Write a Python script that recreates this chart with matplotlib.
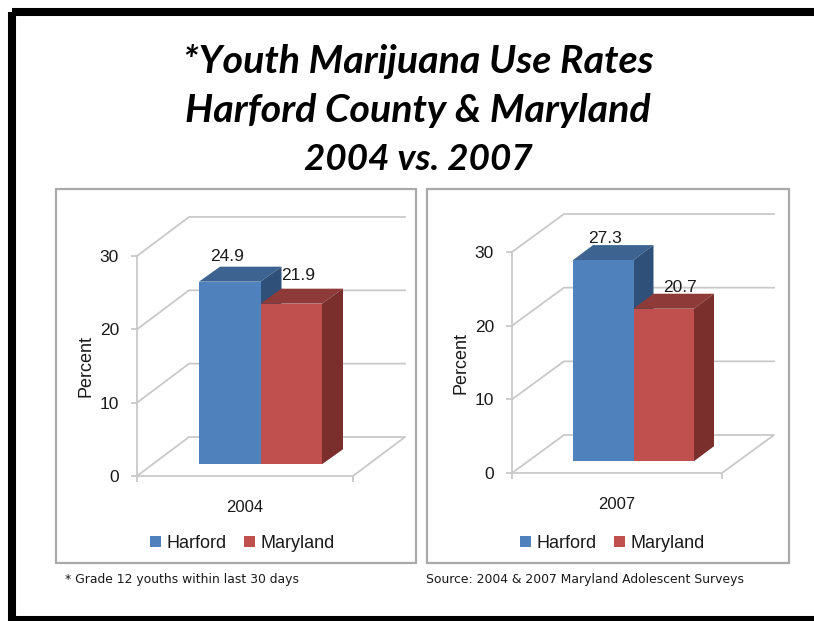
import matplotlib
matplotlib.use('Agg')
import matplotlib.pyplot as plt
from matplotlib.patches import Rectangle, Polygon
from matplotlib.transforms import Affine2D

years = ['2004', '2007']
series = ['Harford', 'Maryland']
harford = [24.9, 27.3]
maryland = [21.9, 20.7]
y_ticks = [0, 10, 20, 30]
title_lines = ['*Youth Marijuana Use Rates', 'Harford County & Maryland', '2004 vs. 2007']
note_left = '* Grade 12 youths within last 30 days'
note_right = 'Source: 2004 & 2007 Maryland Adolescent Surveys'

W, H = 814, 621
GRID = '#c9c9c9'
BORDER = '#a9a9a9'
TEXT = '#1a1a1a'
FACES = {'Harford': ('#4f81bd', '#3d6491', '#2f5078'),
         'Maryland': ('#c0504d', '#8e3a38', '#7a2f2d')}

plt.rcParams['font.family'] = ['Liberation Sans', 'DejaVu Sans']

fig = plt.figure(figsize=(W / 100, H / 100), dpi=100)
fig.patch.set_facecolor('white')
# pixel coordinates with the origin top left
px = Affine2D().scale(1 / W, -1 / H).translate(0, 1) + fig.transFigure


def draw_panel(year, values, box, left, right, front, top, floor, bar_x, bar_w, bar_y, lift, legend_xy, label_offsets):
    fig.add_artist(Rectangle((box[0], box[1]), box[2] - box[0], box[3] - box[1], transform=px,
                             facecolor='white', edgecolor=BORDER, linewidth=1.6, zorder=-1))
    ax = fig.add_axes([left / W, 1 - front / H, (right - left) / W, (front - top) / H])
    ax.patch.set_alpha(0)
    ax.set_ylim(0, 30)
    # one x unit is one bar width, bars sit at 0 and 1
    x0 = (bar_x + bar_w / 2)
    ax.set_xlim((left - x0) / bar_w, (right - x0) / bar_w)
    unit = (front - top) / 30
    fx, fy = floor[0] / bar_w, floor[1] / unit
    bx, by = bar_y[0] / bar_w, bar_y[1] / unit
    xmin, xmax = ax.get_xlim()

    # floor and back wall
    ax.plot([xmin, xmin + fx, xmax + fx, xmax], [0, fy, fy, 0], color=GRID, lw=1.3, clip_on=False, zorder=1)
    for t in y_ticks[1:]:
        ax.plot([xmin, xmin + fx, xmax + fx], [t, t + fy, t + fy], color=GRID, lw=1.3, clip_on=False, zorder=1)

    # text sits under the bars, the top faces cut into it in the reference
    for i, v in enumerate(values):
        ax.annotate(f'{v}', (i, v + lift), xytext=label_offsets[i], textcoords='offset pixels',
                    ha='center', va='center', fontsize=12.5, color=TEXT, zorder=2, annotation_clip=False)

    handles = []
    for i, (name, v) in enumerate(zip(series, values)):
        front_c, top_c, side_c = FACES[name]
        z = 3 + i
        xl, xr = i - 0.5, i + 0.5
        yb, yt = lift, v + lift
        ax.add_patch(Polygon([(xl, yt), (xr, yt), (xr + bx, yt + by), (xl + bx, yt + by)],
                             facecolor=top_c, edgecolor='none', clip_on=False, zorder=z))
        ax.add_patch(Polygon([(xr, yb), (xr, yt), (xr + bx, yt + by), (xr + bx, yb + by)],
                             facecolor=side_c, edgecolor='none', clip_on=False, zorder=z))
        bars = ax.bar(i, v, bottom=lift, width=1, color=front_c, clip_on=False, zorder=z, label=name)
        handles.append(bars)

    for s in ['top', 'right']:
        ax.spines[s].set_visible(False)
    for s in ['left', 'bottom']:
        ax.spines[s].set_color(GRID)
        ax.spines[s].set_linewidth(1.3)
    ax.set_yticks(y_ticks)
    ax.set_xticks([xmin, xmax])
    ax.set_xticklabels([])
    ax.tick_params(axis='both', color=GRID, width=1.3, length=4, labelsize=12.5, labelcolor=TEXT, pad=9)
    ax.set_ylabel('Percent', fontsize=13, color=TEXT, labelpad=4)
    ax.set_xlabel(year, fontsize=12, color=TEXT, labelpad=4)
    ax.legend(handles=handles, loc='center', bbox_to_anchor=legend_xy, bbox_transform=px, ncol=2,
              frameon=False, fontsize=13, handlelength=0.62, handleheight=0.62, handletextpad=0.3,
              columnspacing=0.95, labelcolor=TEXT, borderpad=0, borderaxespad=0)
    return ax


# black frame, open on the right
fig.add_artist(Rectangle((12, 12), 840, 607.5, transform=px, facecolor='none', edgecolor='black',
                         linewidth=5.8, joinstyle='miter', zorder=-2))

for line, base, size in zip(title_lines, [73, 122, 170], [28.4, 28.4, 26.5]):
    fig.text(418 / W, 1 - base / H, line, ha='center', va='baseline', fontsize=size,
             family='Lato', weight='bold', style='italic', color='black')

draw_panel(years[0], [harford[0], maryland[0]], (56, 189, 416, 563), 137, 353, 476, 256, (52, 39),
           199, 61.5, (21, 15), 1.6, (242, 543.5), [(-3, 25), (7, 28)])
draw_panel(years[1], [harford[1], maryland[1]], (427, 189, 789, 563), 512, 722, 473, 252, (52, 38),
           573, 60.5, (20, 15), 1.6, (612, 543.5), [(2, 22), (16, 21)])

fig.text(65 / W, 1 - 579 / H, note_left, ha='left', va='center', fontsize=8.9, family='DejaVu Sans', color=TEXT)
fig.text(426 / W, 1 - 579 / H, note_right, ha='left', va='center', fontsize=8.9, family='DejaVu Sans', color=TEXT)

fig.savefig('out.png', dpi=100)
